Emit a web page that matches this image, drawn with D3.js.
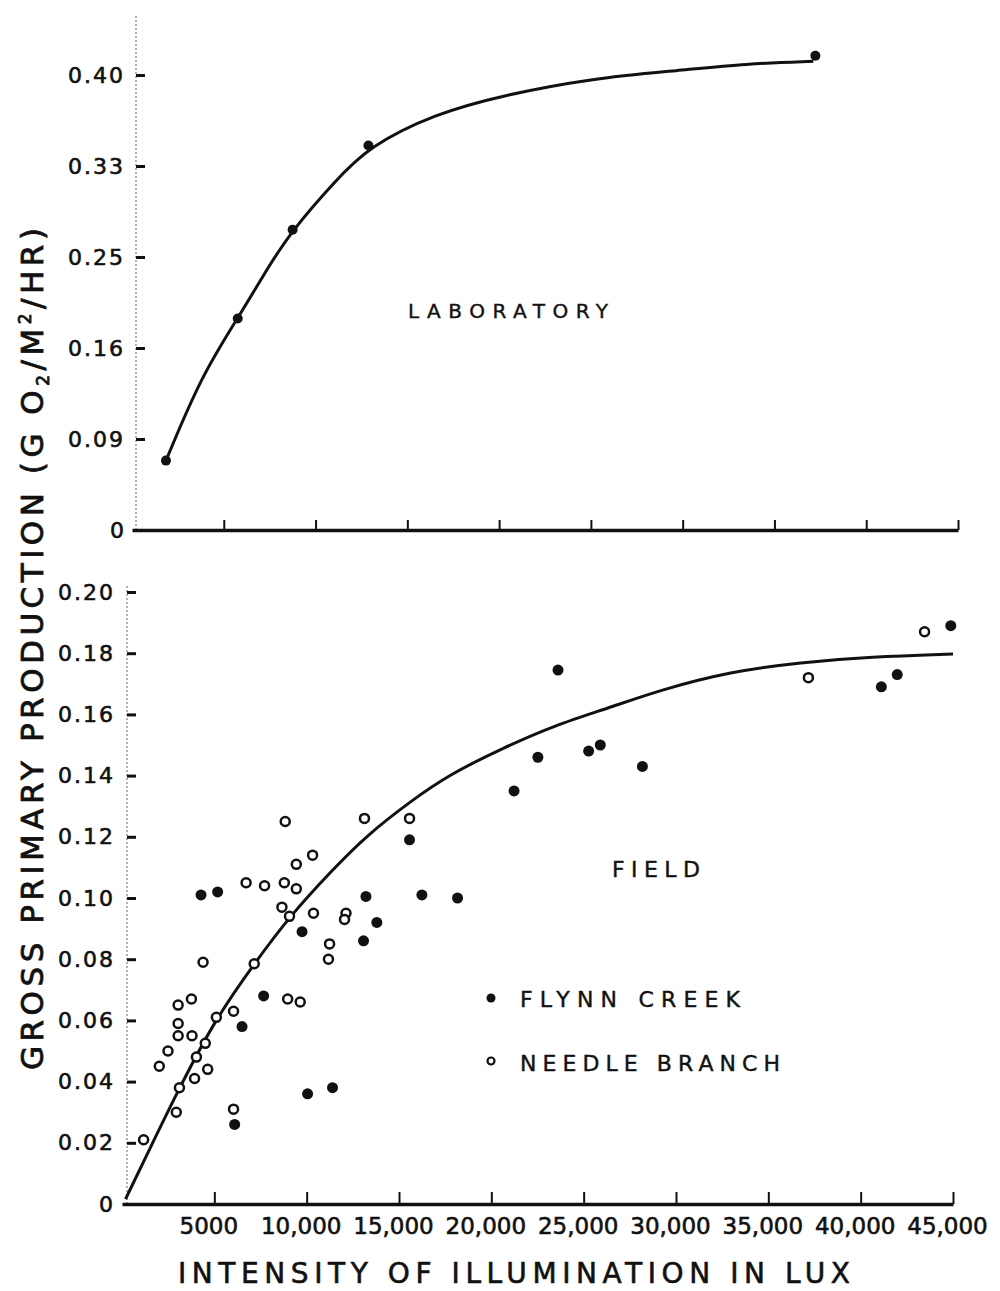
<!DOCTYPE html>
<html>
<head>
<meta charset="utf-8">
<script src="https://cdn.jsdelivr.net/npm/d3@7"></script>
<style>
  body { margin: 0; background: #fff; }
  text { font-family: "DejaVu Sans", sans-serif; fill: #111; stroke: #111; stroke-width: 0.6; }
</style>
</head>
<body>
<svg id="chart" width="1000" height="1291"></svg>
<script>
// ---- data ----
// laboratory panel (top)
const labLux  = [1850, 5760, 8750, 12880, 37230];
const labProd = [0.061, 0.186, 0.264, 0.338, 0.417];
// smooth curve drawn through the lab points
const labCurveLux  = [1900, 3800, 5760, 7450, 8750, 11030, 12880, 16520, 20160, 25000, 29840, 33480, 37120];
const labCurveProd = [0.063, 0.136, 0.186, 0.232, 0.264, 0.306, 0.337, 0.366, 0.382, 0.397, 0.404, 0.410, 0.412];
const labTickVals   = [0, 0.08, 0.16, 0.24, 0.32, 0.40];
const labTickLabels = ["0", "0.09", "0.16", "0.25", "0.33", "0.40"];

// field panel (bottom)
const flynnLux  = [4280, 5180, 9750, 13800, 13210, 13080, 15570, 16240, 18170, 7670, 6500, 6100, 10050, 11400,
                   23610, 22520, 25270, 25900, 28180, 21230, 41120, 41980, 44880];
const flynnProd = [0.101, 0.102, 0.089, 0.092, 0.1005, 0.086, 0.119, 0.101, 0.100, 0.068, 0.058, 0.026, 0.036, 0.038,
                   0.1745, 0.146, 0.148, 0.150, 0.143, 0.135, 0.169, 0.173, 0.189];
const needleLux  = [6720, 7720, 8790, 9440, 8840, 9440, 10320, 8660, 9070, 10370, 12130, 12050, 13130, 15570,
                    11240, 11180, 4390, 7160, 8970, 9650, 3040, 3760, 3040, 3040, 3790, 2490, 2020, 5110,
                    6040, 4510, 4030, 4640, 3930, 3110, 2940, 6040, 1170, 37170, 43460];
const needleProd = [0.105, 0.104, 0.105, 0.103, 0.125, 0.111, 0.114, 0.097, 0.094, 0.095, 0.095, 0.093, 0.126, 0.126,
                    0.085, 0.080, 0.079, 0.0785, 0.067, 0.066, 0.065, 0.067, 0.059, 0.055, 0.055, 0.050, 0.045, 0.061,
                    0.063, 0.0525, 0.048, 0.044, 0.041, 0.038, 0.030, 0.031, 0.021, 0.172, 0.187];
const fieldCurveLux  = [190, 1540, 3110, 5110, 7160, 9070, 11440, 13260, 15600, 17770, 20620, 23470, 26310, 29160, 32960, 36760, 40550, 45000];
const fieldCurveProd = [0.0016, 0.0185, 0.038, 0.061, 0.0785, 0.094, 0.1095, 0.1205, 0.1315, 0.1405, 0.149, 0.1565, 0.162, 0.168, 0.174, 0.177, 0.1788, 0.1797];
const fieldTickVals = [0, 0.02, 0.04, 0.06, 0.08, 0.10, 0.12, 0.14, 0.16, 0.18, 0.20];
const fieldTickLabels = ["0", "0.02", "0.04", "0.06", "0.08", "0.10", "0.12", "0.14", "0.16", "0.18", "0.20"];

const luxTicks = [5000, 10000, 15000, 20000, 25000, 30000, 35000, 40000, 45000];
const luxTickLabels = ["5000", "10,000", "15,000", "20,000", "25,000", "30,000", "35,000", "40,000", "45,000"];

const svg = d3.select("#chart");

// ---- scales ----
const xTop = d3.scaleLinear().domain([0, 45000]).range([132, 958]);
const yTop = d3.scaleLinear().domain([0, 0.40]).range([530, 75]);
const xBot = d3.scaleLinear().domain([0, 45000]).range([122, 953]);
const yBot = d3.scaleLinear().domain([0, 0.20]).range([1204, 592]);

function styleYAxis(g) {
  g.select(".domain").remove();
  g.selectAll(".tick line").attr("stroke", "#111").attr("stroke-width", 3);
  g.selectAll(".tick text")
    .attr("font-size", 22).attr("letter-spacing", 2).attr("fill", "#111")
    .style("font-family", "DejaVu Sans, sans-serif");
}

function styleXAxis(g) {
  g.select(".domain").attr("stroke", "#111").attr("stroke-width", 3.5);
  g.selectAll(".tick line").attr("stroke", "#111").attr("stroke-width", 2);
}

// ---- top panel: laboratory ----
// faint scanned y axis line
svg.append("line")
  .attr("x1", xTop(0) + 4).attr("x2", xTop(0) + 4)
  .attr("y1", yTop(0)).attr("y2", yTop(0.40) - 60)
  .attr("stroke", "#999").attr("stroke-width", 1.5).attr("stroke-dasharray", "2,2");

svg.append("g")
  .attr("transform", `translate(${xTop(0) + 4},0)`)
  .call(d3.axisLeft(yTop).tickValues(labTickVals)
    .tickFormat((d, i) => i === 0 ? "" : labTickLabels[i])
    .tickSizeInner(-9).tickSizeOuter(0).tickPadding(11))
  .call(styleYAxis)
  .call(g => g.selectAll(".tick").filter(d => d === 0).select("line").remove());

svg.append("g")
  .attr("transform", `translate(0,${yTop(0)})`)
  .call(d3.axisBottom(xTop).tickValues(luxTicks).tickFormat("")
    .tickSizeInner(-10).tickSizeOuter(0))
  .call(styleXAxis);

svg.append("text")
  .attr("x", xTop(0) - 8).attr("y", yTop(0)).attr("dy", "0.35em")
  .attr("text-anchor", "end").attr("font-size", 22).text(labTickLabels[0]);

const labLine = d3.line()
  .x((d, i) => xTop(labCurveLux[i]))
  .y((d, i) => yTop(labCurveProd[i]))
  .curve(d3.curveBasis);

svg.append("path")
  .datum(labCurveLux)
  .attr("d", labLine)
  .attr("fill", "none").attr("stroke", "#111").attr("stroke-width", 3);

svg.append("g").selectAll("circle")
  .data(labLux)
  .join("circle")
  .attr("cx", d => xTop(d))
  .attr("cy", (d, i) => yTop(labProd[i]))
  .attr("r", 5)
  .attr("fill", "#111");

svg.append("text")
  .attr("x", 508).attr("y", 318)
  .attr("text-anchor", "middle").attr("font-size", 20).style("stroke-width", 0.4)
  .attr("textLength", 200).attr("lengthAdjust", "spacing")
  .text("LABORATORY");

// ---- bottom panel: field ----
svg.append("line")
  .attr("x1", xBot(0) + 5).attr("x2", xBot(0) + 5)
  .attr("y1", yBot(0)).attr("y2", yBot(0.20) - 8)
  .attr("stroke", "#999").attr("stroke-width", 1.5).attr("stroke-dasharray", "2,2");

svg.append("g")
  .attr("transform", `translate(${xBot(0) + 5},0)`)
  .call(d3.axisLeft(yBot).tickValues(fieldTickVals)
    .tickFormat((d, i) => fieldTickLabels[i])
    .tickSizeInner(-9).tickSizeOuter(0).tickPadding(12))
  .call(styleYAxis)
  .call(g => g.selectAll(".tick").filter(d => d === 0).select("line").remove());

svg.append("g")
  .attr("transform", `translate(0,${yBot(0)})`)
  .call(d3.axisBottom(xBot).tickValues(luxTicks)
    .tickFormat((d, i) => luxTickLabels[i])
    .tickSizeInner(-12).tickSizeOuter(0).tickPadding(14))
  .call(styleXAxis)
  .call(g => g.selectAll(".tick text")
    .attr("font-size", 23).attr("letter-spacing", 0).attr("fill", "#111")
    .attr("dx", -6)
    .style("font-family", "DejaVu Sans, sans-serif"));

const fieldLine = d3.line()
  .x((d, i) => xBot(fieldCurveLux[i]))
  .y((d, i) => yBot(fieldCurveProd[i]))
  .curve(d3.curveBasis);

svg.append("path")
  .datum(fieldCurveLux)
  .attr("d", fieldLine)
  .attr("fill", "none").attr("stroke", "#111").attr("stroke-width", 3);

// Needle Branch: open circles
svg.append("g").selectAll("circle")
  .data(needleLux)
  .join("circle")
  .attr("cx", d => xBot(d))
  .attr("cy", (d, i) => yBot(needleProd[i]))
  .attr("r", 4.5)
  .attr("fill", "#fff").attr("stroke", "#111").attr("stroke-width", 2.5);

// Flynn Creek: filled circles
svg.append("g").selectAll("circle")
  .data(flynnLux)
  .join("circle")
  .attr("cx", d => xBot(d))
  .attr("cy", (d, i) => yBot(flynnProd[i]))
  .attr("r", 5.5)
  .attr("fill", "#111");

svg.append("text")
  .attr("x", 656).attr("y", 877)
  .attr("text-anchor", "middle").attr("font-size", 22).style("stroke-width", 0.4)
  .attr("textLength", 88).attr("lengthAdjust", "spacing")
  .text("FIELD");

// legend
const legend = svg.append("g");
legend.append("circle").attr("cx", 491).attr("cy", 998).attr("r", 4.5).attr("fill", "#111");
legend.append("circle").attr("cx", 491).attr("cy", 1061).attr("r", 3.5)
  .attr("fill", "#fff").attr("stroke", "#111").attr("stroke-width", 2.2);
legend.append("text").attr("x", 520).attr("y", 1007).attr("font-size", 22).style("stroke-width", 0.4)
  .attr("textLength", 220).attr("lengthAdjust", "spacing").text("FLYNN CREEK");
legend.append("text").attr("x", 520).attr("y", 1071).attr("font-size", 22).style("stroke-width", 0.4)
  .attr("textLength", 260).attr("lengthAdjust", "spacing").text("NEEDLE BRANCH");

// axis titles
svg.append("text")
  .attr("x", 514).attr("y", 1283)
  .attr("text-anchor", "middle").attr("font-size", 28)
  .attr("textLength", 672).attr("lengthAdjust", "spacing")
  .text("INTENSITY OF ILLUMINATION IN LUX");

const yTitle = svg.append("text")
  .attr("transform", "translate(43,649) rotate(-90)")
  .attr("text-anchor", "middle").attr("font-size", 31).style("stroke-width", 0.8)
  .attr("textLength", 842).attr("lengthAdjust", "spacing");
yTitle.append("tspan").text("GROSS PRIMARY PRODUCTION (G O");
yTitle.append("tspan").attr("font-size", 17).attr("dy", 6).text("2");
yTitle.append("tspan").attr("dy", -6).text("/M");
yTitle.append("tspan").attr("font-size", 17).attr("dy", -12).text("2");
yTitle.append("tspan").attr("dy", 12).text("/HR)");
</script>
</body>
</html>
